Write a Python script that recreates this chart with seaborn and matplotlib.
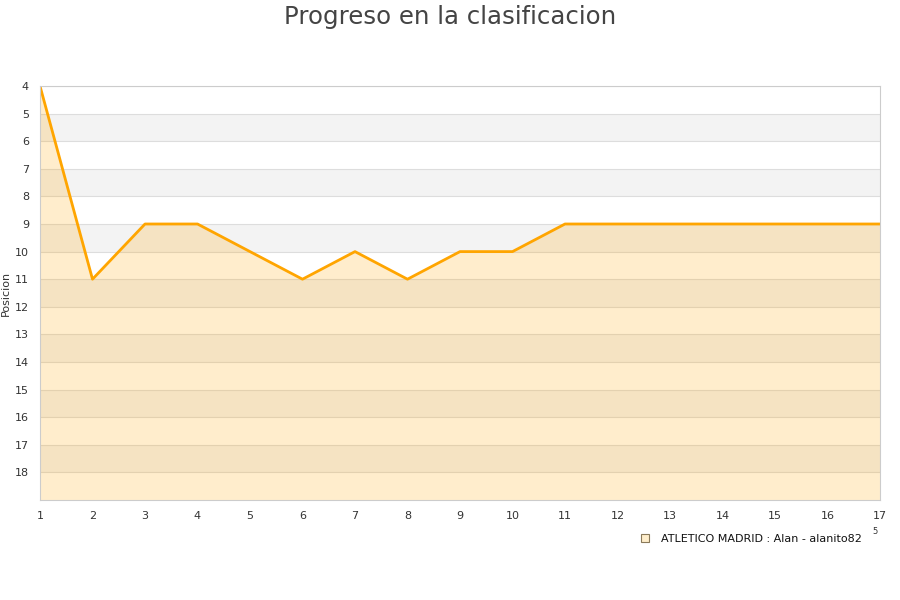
import matplotlib
matplotlib.use("Agg")
import matplotlib.pyplot as plt
from matplotlib.lines import Line2D
import numpy as np
import pandas as pd
import seaborn as sns

# jornadas and league positions
jornadas = list(range(1, 18))
posiciones = [4, 11, 9, 9, 10, 11, 10, 11, 10, 10, 9, 9, 9, 9, 9, 9, 9]
y_ticks = list(range(4, 19))
equipo = "ATLETICO MADRID : Alan - alanito82"

df = pd.DataFrame({"Jornada": jornadas, "Posicion": posiciones})

sns.set_style("white")
plt.rcParams["font.family"] = ["DejaVu Sans"]

fig = plt.figure(figsize=(9, 6), dpi=100)
fig.patch.set_facecolor("white")
ax = fig.add_axes([40 / 900, 1 - 500 / 600, 840 / 900, 414 / 600])

# alternating horizontal bands
for lo in range(4, 19):
    color = "#f3f3f3" if lo % 2 == 1 and lo < 18 else "white"
    ax.axhspan(lo, lo + 1, color=color, zorder=0, lw=0)
    ax.axhline(lo, color="#dddddd", lw=0.8, zorder=0.5)

# area fill below the line (down to last place)
ax.fill_between(df["Jornada"], df["Posicion"], 19, color="#ffa500",
                alpha=0.2, lw=0, zorder=1)
sns.lineplot(data=df, x="Jornada", y="Posicion", color="#ffa500",
             linewidth=2.0, ax=ax, zorder=2)

ax.set_xlim(1, 17)
ax.set_ylim(19, 4)
ax.set_xticks(jornadas)
ax.set_yticks(y_ticks)
ax.tick_params(axis="both", labelsize=8, colors="#333333", length=0, pad=8)
ax.set_xlabel("")
ax.set_ylabel("Posicion", fontsize=8, color="#333333", labelpad=4)
ax.yaxis.set_label_coords(-0.035, 0.5)
for side in ["top", "right", "bottom", "left"]:
    ax.spines[side].set_color("#cccccc")
    ax.spines[side].set_linewidth(0.8)

fig.text(0.5, 0.992, "Progreso en la clasificacion", ha="center", va="top",
         fontsize=17.6, color="#444444")

handle = Line2D([0], [0], marker="s", linestyle="none", markersize=6,
                markerfacecolor="#ffeecb", markeredgecolor="#8a7a5a",
                markeredgewidth=0.8)
fig.legend([handle], [equipo], loc="upper right",
           bbox_to_anchor=(870 / 900, 1 - 526 / 600), frameon=False,
           fontsize=8, handletextpad=0.5, borderpad=0.2, labelcolor="#111111")
fig.text(875 / 900, 1 - 532 / 600, "5", fontsize=6, color="#333333",
         ha="center", va="center")

fig.savefig("out.png", dpi=100)
